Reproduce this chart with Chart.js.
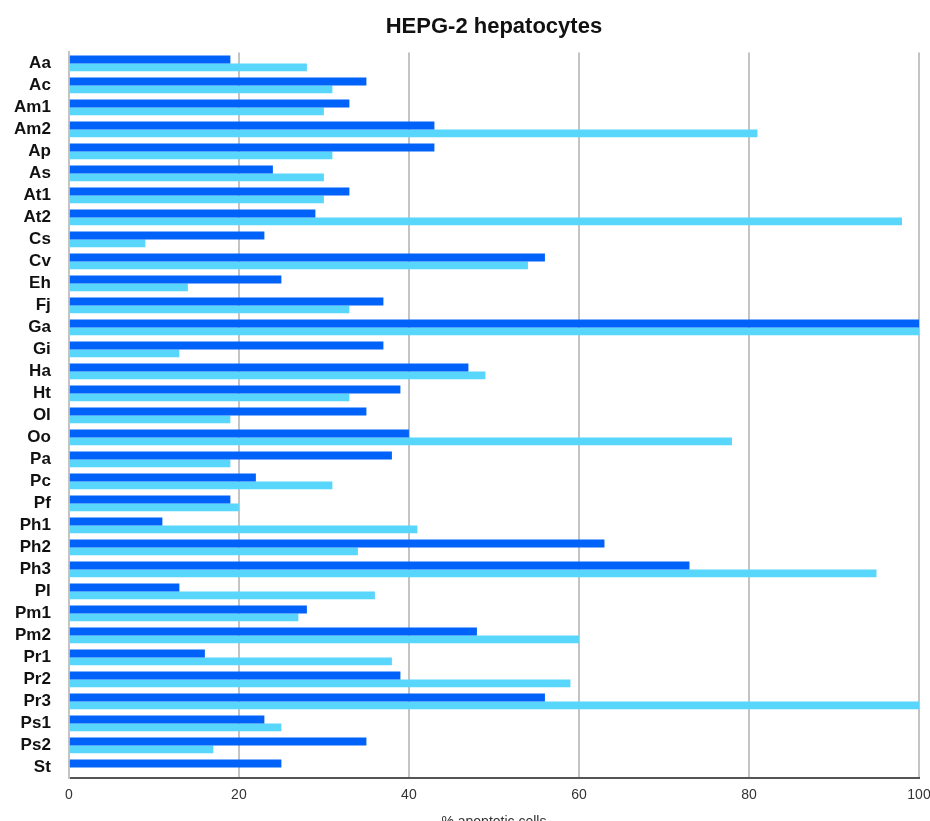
<!DOCTYPE html>
<html>
<head>
<meta charset="utf-8">
<script src="https://cdn.jsdelivr.net/npm/chart.js@4/dist/chart.umd.min.js"></script>
<style>
  body { margin: 0; background: #fff; }
  #wrap { width: 930px; height: 821px; }
</style>
</head>
<body>
<div id="wrap"><canvas id="chart-area"></canvas></div>
<script>
var labels = ["Aa","Ac","Am1","Am2","Ap","As","At1","At2","Cs","Cv","Eh","Fj","Ga","Gi","Ha","Ht","Ol","Oo","Pa","Pc","Pf","Ph1","Ph2","Ph3","Pl","Pm1","Pm2","Pr1","Pr2","Pr3","Ps1","Ps2","St"];

var darkValues = [19,35,33,43,43,24,33,29,23,56,25,37,100,37,47,39,35,40,38,22,19,11,63,73,13,28,48,16,39,56,23,35,25];

var lightValues = [28,31,30,81,31,30,30,98,9,54,14,33,100,13,49,33,19,78,19,31,20,41,34,95,36,27,60,38,59,100,25,17,0];

var xTicks = [0,20,40,60,80,100];

Chart.defaults.font.family = "'Liberation Sans', Arial, sans-serif";
Chart.defaults.color = "#222";

var config = {
    type: 'bar',
    data: {
        labels: labels,
        datasets: [{
            label: 'series 1',
            data: darkValues,
            backgroundColor: "#0062f9"
        }, {
            label: 'series 2',
            data: lightValues,
            backgroundColor: "#58d6fb"
        }]
    },
    options: {
        indexAxis: 'y',
        responsive: true,
        maintainAspectRatio: false,
        animation: false,
        categoryPercentage: 0.72,
        barPercentage: 1.0,
        layout: {
            padding: {left: -4, right: 11, top: 0, bottom: -10}
        },
        plugins: {
            legend: {display: false},
            tooltip: {enabled: false},
            title: {
                display: true,
                text: 'HEPG-2 hepatocytes',
                fullSize: false,
                color: "#111",
                font: {size: 22, weight: 'bold'},
                padding: {top: 14, bottom: 12}
            }
        },
        scales: {
            x: {
                min: 0,
                max: 100,
                afterBuildTicks: function(axis) {
                    axis.ticks = xTicks.map(function(v) { return {value: v}; });
                },
                afterFit: function(scale) {
                    // let the "100" label run off the right edge like the original
                    scale.paddingRight = 0;
                },
                grid: {
                    color: "#c4c4c4",
                    lineWidth: 2,
                    drawTicks: false
                },
                border: {display: true, color: "#555", width: 2},
                ticks: {
                    padding: 8,
                    color: "#333",
                    font: {size: 14}
                },
                title: {
                    display: true,
                    text: '% apoptotic cells',
                    color: "#333",
                    font: {size: 14},
                    padding: {top: 3, bottom: 0}
                }
            },
            y: {
                grid: {display: false, drawTicks: false},
                border: {display: true, color: "#c4c4c4", width: 2},
                ticks: {
                    autoSkip: false,
                    padding: 18,
                    color: "#111",
                    font: {size: 17, weight: 'bold'}
                }
            }
        }
    }
};

var ctx = document.getElementById("chart-area").getContext("2d");
var myBar = new Chart(ctx, config);
</script>
</body>
</html>
